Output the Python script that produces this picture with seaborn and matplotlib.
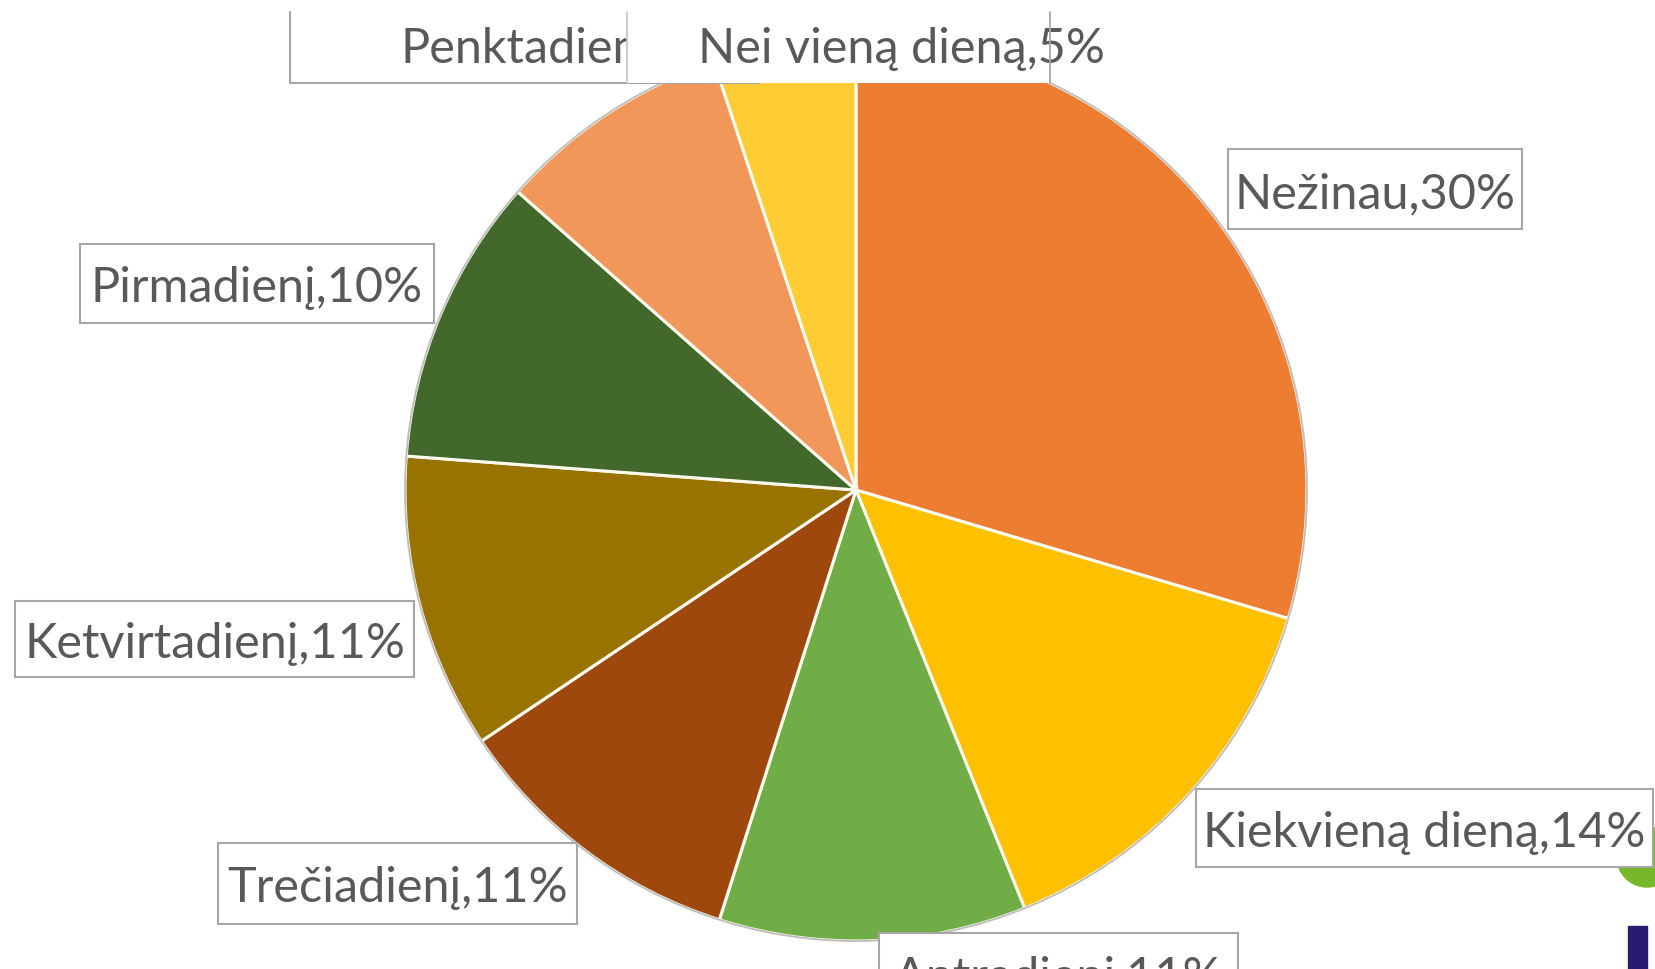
import matplotlib.pyplot as plt
import matplotlib.patches as mpatches
import seaborn as sns

# ── data ────────────────────────────────────────────────────────────────────
categories = ["Nežinau", "Kiekvieną dieną", "Antradienį", "Trečiadienį",
              "Ketvirtadienį", "Pirmadienį", "Penktadienį", "Nei vieną dieną"]
shares = [29.6, 14.3, 11.0, 10.7, 10.6, 10.3, 8.4, 5.1]
colors = ["#ED7D31", "#FFC000", "#70AD47", "#9E480E",
          "#997300", "#43682B", "#F1975A", "#FFCD33"]

# label boxes in pixel coords from top-left: x0, x1, top, bottom
boxes = {
    "Nežinau":         (1228, 1522, 150, 230),
    "Kiekvieną dieną": (1196, 1653, 790, 868),
    "Antradienį":      (879, 1238, 934, 1014),
    "Trečiadienį":     (218, 577, 844, 925),
    "Ketvirtadienį":   (15, 414, 602, 678),
    "Pirmadienį":      (80, 434, 245, 324),
    "Penktadienį":     (290, 760, -20, 84),
    "Nei vieną dieną": (627, 1050, -20, 84),
}

sns.set_theme(style="white")
plt.rcParams["font.family"] = ["Lato", "DejaVu Sans"]

W, H = 1655, 970
fig = plt.figure(figsize=(W / 100, H / 100), dpi=100)
ax = fig.add_axes([0, 0, 1, 1])

def Y(py):
    return H - py

cx, cy, r = 856, Y(491), 451
wedges, _ = ax.pie(shares, colors=sns.color_palette(colors), startangle=90,
                   counterclock=False, center=(cx, cy), radius=r, frame=True,
                   wedgeprops=dict(edgecolor="#FFFBEF", linewidth=2.2))
ax.set_xlim(0, W)
ax.set_ylim(0, H)
ax.set_aspect("equal")
ax.axis("off")

# the top of the pie is cut flat in the reference
clip = mpatches.Rectangle((0, 0), W, Y(83), transform=ax.transData)
for w in wedges:
    w.set_clip_path(clip)
ring = mpatches.Circle((cx, cy), r, fill=False, ec="#BDBDBD", lw=1.3, zorder=3)
ax.add_patch(ring)
ring.set_clip_path(clip)

# slide decorations at the right edge
ax.add_patch(mpatches.Circle((1647, Y(858)), 30, color="#77B82A", zorder=1))
ax.add_patch(mpatches.Rectangle((1628, 0), 19, Y(927), color="#2B1B6E", zorder=1))

TXT = "#595959"
EDGE = "#A6A6A6"
FS = 35
z = 5
for cat, val in zip(categories, shares):
    x0, x1, top, bot = boxes[cat]
    label = f"{cat},{round(val)}%"
    if cat == "Nei vieną dieną":
        ax.add_patch(mpatches.Rectangle((x0, Y(bot)), x1 - x0, bot - top,
                                        fc="white", ec="none", zorder=z))
        ax.plot([x0, x0], [Y(13), Y(bot)], color="#C8C8C8", lw=1.3, zorder=z)
        ax.plot([x1, x1], [Y(13), Y(bot)], color=EDGE, lw=1.3, zorder=z + 1.5)
        ax.text(698, Y(63), label, ha="left", va="baseline", fontsize=FS,
                color=TXT, zorder=z + 1)
    elif cat == "Penktadienį":
        ax.add_patch(mpatches.Rectangle((x0, Y(bot)), x1 - x0, bot - top,
                                        fc="white", ec="none", zorder=z - 1))
        ax.plot([x0, x0, x1], [Y(13), Y(bot), Y(bot)], color=EDGE, lw=1.5,
                zorder=z - 1)
        ax.text(400, Y(63), label, ha="left", va="baseline", fontsize=FS,
                color=TXT, zorder=z - 1)
    else:
        ax.add_patch(mpatches.Rectangle((x0, Y(bot)), x1 - x0, bot - top,
                                        fc="white", ec=EDGE, lw=1.5, zorder=z))
        ax.text((x0 + x1) / 2, Y((top + bot) / 2 + 18), label, ha="center",
                va="baseline", fontsize=FS, color=TXT, zorder=z + 1)

fig.savefig("out.png", dpi=100)
